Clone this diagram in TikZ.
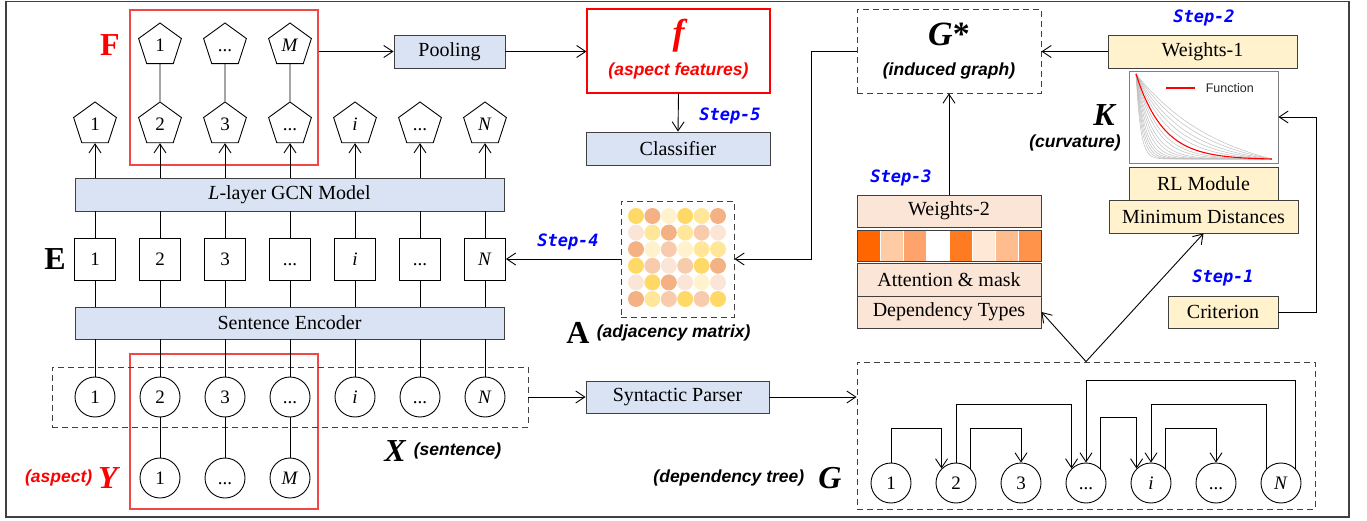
\documentclass[tikz,border=0pt]{standalone}
\usepackage{fontspec}
\setmainfont{Liberation Serif}
\newfontfamily\lsans{Liberation Sans}
\newfontfamily\stepf{DejaVu Sans Mono}
\usetikzlibrary{arrows.meta,shapes.geometric,calc}
\definecolor{bluef}{HTML}{DAE3F3}
\definecolor{yelf}{HTML}{FFF2CC}
\definecolor{peachf}{HTML}{FBE5D6}
\definecolor{redl}{HTML}{F04848}
\definecolor{edgec}{HTML}{404040}
\definecolor{stepc}{HTML}{0000FF}
\definecolor{mgold}{HTML}{FFD966}
\definecolor{msal}{HTML}{F4B183}
\definecolor{mly}{HTML}{FFF2CC}
\definecolor{mlg}{HTML}{FFE699}
\definecolor{mpc}{HTML}{F8CBAD}
\definecolor{mvl}{HTML}{FBE5D6}
\definecolor{sA}{HTML}{FF6600}
\definecolor{sB}{HTML}{FFCBA5}
\definecolor{sC}{HTML}{FFA36C}
\definecolor{sD}{HTML}{FFFFFF}
\definecolor{sE}{HTML}{FF7B22}
\definecolor{sF}{HTML}{FFE8D6}
\definecolor{sG}{HTML}{FFBD8F}
\definecolor{sH}{HTML}{FF934A}
\newcommand{\boxfs}{\fontsize{20}{22}\selectfont}
\newcommand{\numfs}{\fontsize{19}{20}\selectfont}
\newcommand{\labfs}{\lsans\bfseries\itshape\fontsize{17.5}{19}\selectfont}
\newcommand{\bigfs}{\fontsize{32}{34}\selectfont\bfseries}
\newcommand{\dotsx}{\vphantom{1}...}
\begin{document}
\begin{tikzpicture}[x=1pt,y=-1pt,line width=0.9pt,
  arr/.style={-{Straight Barb[length=9pt,width=12pt]}},
  boxn/.style={draw=edgec,inner sep=0,font=\boxfs,align=center},
  bluebox/.style={boxn,fill=bluef},
  yelbox/.style={boxn,fill=yelf},
  peachbox/.style={boxn,fill=peachf},
  pent/.style={regular polygon,regular polygon sides=5,draw,minimum size=45,inner sep=0,font=\numfs},
  circ/.style={circle,draw,minimum size=40,inner sep=0,font=\numfs},
  ebox/.style={draw,minimum width=41,minimum height=42,inner sep=0,font=\numfs},
  dashbox/.style={draw=edgec,dash pattern=on 6pt off 4pt,inner sep=0},
  lab/.style={font=\labfs},
  steplab/.style={text=stepc,font=\stepf\bfseries\itshape\fontsize{17}{18}\selectfont},
  bigl/.style={font=\bigfs}
]
\useasboundingbox (0,0) rectangle (1367,521);
\draw[edgec,line width=1.3pt] (6,1.2) rectangle (1349,517);

% ---------- red boxes
\node[draw=redl,line width=1.1pt,minimum width=188,minimum height=155,inner sep=0] (fred) at (224,87.5) {};
\node[draw=redl,line width=1.1pt,minimum width=188,minimum height=155,inner sep=0] (yred) at (224,431.5) {};

% ---------- pentagons
\node[pent] (q1) at (160,45.5) {1};
\node[pent] (q2) at (225,45.5) {\dotsx};
\node[pent] (q3) at (290,45.5) {\textit{M}};
\node[pent] (p1) at (95,124.5) {1};
\node[pent] (p2) at (160,124.5) {2};
\node[pent] (p3) at (225,124.5) {3};
\node[pent] (p4) at (290,124.5) {\dotsx};
\node[pent] (p5) at (355,124.5) {\textit{i}};
\node[pent] (p6) at (420,124.5) {\dotsx};
\node[pent] (p7) at (485,124.5) {\textit{N}};
\node[bigl,text=red] (flab) at (110,45) {F};

% ---------- GCN, E, encoder
\node[bluebox,minimum width=429,minimum height=33] (gcn) at (289.5,194.5) {\textit{L}-layer GCN Model};
\node[ebox] (e1) at (95,259) {1};
\node[ebox] (e2) at (160,259) {2};
\node[ebox] (e3) at (225,259) {3};
\node[ebox] (e4) at (290,259) {\dotsx};
\node[ebox] (e5) at (355,259) {\textit{i}};
\node[ebox] (e6) at (420,259) {\dotsx};
\node[ebox] (e7) at (485,259) {\textit{N}};
\node[bigl] (elab) at (55,259) {E};
\node[bluebox,minimum width=429,minimum height=32] (enc) at (289.5,323) {Sentence Encoder};

% ---------- X row
\node[dashbox,minimum width=476,minimum height=60] (xbox) at (290,397) {};
\node[circ] (x1) at (95,397) {1};
\node[circ] (x2) at (160,397) {2};
\node[circ] (x3) at (225,397) {3};
\node[circ] (x4) at (290,397) {\dotsx};
\node[circ] (x5) at (355,397) {\textit{i}};
\node[circ] (x6) at (420,397) {\dotsx};
\node[circ] (x7) at (485,397) {\textit{N}};
\node[circ] (y1) at (160,478) {1};
\node[circ] (y2) at (225,478) {\dotsx};
\node[circ] (y3) at (290,478) {\textit{M}};
\node[bigl,font=\bigfs\itshape] (xlab) at (395,451) {X};
\node[lab,anchor=west] (xtxt) at (410,451) {(sentence)};
\node[lab,anchor=east,text=red] (ytxt) at (96,478) {(aspect)};
\node[bigl,font=\bigfs\itshape,text=red] (ylab) at (108,478) {Y};

\foreach \k in {1,...,7}{
  \draw[arr] (p\k.south |- gcn.north) -- (p\k.south);
  \draw (e\k.north) -- (e\k.north |- gcn.south);
  \draw (e\k.south) -- (e\k.south |- enc.north);
  \draw (x\k.north |- enc.south) -- (x\k.north);
}
\draw (q1.south) -- (p2.north);
\draw (q2.south) -- (p3.north);
\draw (q3.south) -- (p4.north);
\draw (x2.south) -- (y1.north);
\draw (x3.south) -- (y2.north);
\draw (x4.south) -- (y3.north);

% ---------- top middle
\node[bluebox,minimum width=111,minimum height=33] (pool) at (449.5,51.5) {Pooling};
\node[draw=red,line width=1.1pt,fill=white,minimum width=183,minimum height=84,inner sep=0] (fbox) at (678.5,51) {};
\node[text=red,font=\fontsize{36}{38}\selectfont\bfseries\itshape] (ftxt) at (678.5,36) {f};
\node[lab,text=red] (aftxt) at (678.5,71) {(aspect features)};
\node[bluebox,minimum width=184,minimum height=33] (cls) at (678,148.5) {Classifier};
\node[steplab] (s5) at (730,116) {Step-5};
\draw[arr] (fred.east |- pool.west) -- (pool.west);
\draw[arr] (pool.east) -- (pool.east -| fbox.west);
\draw[arr] (fbox.south) -- (cls.north);

% ---------- adjacency matrix
\node[dashbox,minimum width=113,minimum height=116] (abox) at (677.5,259) {};
\foreach \row [count=\i] in {{mgold,msal,mly,mgold,mlg,msal},{mvl,mlg,msal,mlg,mpc,mvl},{msal,mly,mpc,mly,mlg,mlg},{mgold,mpc,mvl,mpc,mgold,msal},{mvl,mgold,msal,mvl,mly,mvl},{msal,mlg,mpc,mgold,mpc,mgold}}{
  \foreach \c [count=\j] in \row {
    \fill[\c] ({636+16.4*(\j-1)},{216+16.6*(\i-1)}) circle (8);
  }
}
\node[bigl] (alab) at (578,333) {A};
\node[lab,anchor=west] (atxt) at (593,333) {(adjacency matrix)};
\node[steplab] (s4) at (568,242) {Step-4};
\draw[arr] (abox.west) -- (e7.east);

% ---------- parser
\node[bluebox,minimum width=183,minimum height=32] (parser) at (677.5,397) {Syntactic Parser};

% ---------- G*
\node[dashbox,minimum width=184,minimum height=84] (gstar) at (949,51) {};
\node[font=\fontsize{34}{36}\selectfont\bfseries] (gtxt) at (949,34) {\textit{G}*};
\node[lab] (igtxt) at (949,71) {(induced graph)};
\draw[arr] (gstar.west) -- ++(-45,0) |- (abox.east);

% ---------- Weights-2 stack
\node[peachbox,minimum width=184,minimum height=32] (w2) at (949,211) {Weights-2};
\foreach \c [count=\j] in {sA,sB,sC,sD,sE,sF,sG,sH}{
  \fill[\c] ({857+23*(\j-1)},230) rectangle ++(23,31);
  \draw[white,line width=0.6pt] ({857+23*(\j-1)},230) -- ++(0,31);
}
\draw[edgec,line width=0.8pt] (857,230) rectangle (1041,261);
\node[peachbox,minimum width=184,minimum height=33] (att) at (949,279.5) {Attention \& mask};
\node[peachbox,minimum width=184,minimum height=32] (dep) at (949,312) {Dependency Types};
\node[steplab] (s3) at (901,178) {Step-3};
\draw[arr] (w2.north) -- (gstar.south);

% ---------- right column
\node[yelbox,minimum width=189,minimum height=33] (w1) at (1202.5,51.5) {Weights-1};
\node[steplab] (s2) at (1204,18) {Step-2};
\draw[arr] (w1.west) -- (w1.west -| gstar.east);
\node[draw=gray,fill=white,line width=0.8pt,minimum width=149,minimum height=92,inner sep=0] (chart) at (1203.5,117) {};
\foreach \k in {1.6,2.1,2.7,3.3,4,6,7,8.5,10,12,14.5,17,20,24,30}{
  \draw[gray!50,line width=0.5pt] plot[domain=0:1,samples=60,smooth] ({1136+136*\x},{74+85*(1-exp(-\k*\x))/(1-exp(-\k))});
}
\draw[red,line width=1.1pt] plot[domain=0:1,samples=60,smooth] ({1136+136*\x},{74+85*(1-exp(-5*\x))/(1-exp(-5))});
\draw[red,line width=1.1pt] (1166,88) -- (1195,88);
\node[anchor=west,font=\lsans\fontsize{12.5}{14}\selectfont,text=black!85] (fn) at (1202,88) {Function};
\node[bigl,font=\bigfs\itshape] (klab) at (1104,115) {K};
\node[lab] (ktxt) at (1075,143) {(curvature)};
\node[yelbox,minimum width=149,minimum height=33] (rl) at (1203.5,183.5) {RL Module};
\node[yelbox,minimum width=189,minimum height=33] (mind) at (1203.5,216.5) {Minimum Distances};
\node[yelbox,minimum width=110,minimum height=32] (crit) at (1223,312) {Criterion};
\node[steplab] (s1) at (1223,278) {Step-1};
\draw[arr] (crit.east) -- ++(38,0) |- (chart.east);

% ---------- dependency tree
\node[dashbox,minimum width=458,minimum height=147] (tree) at (1086,435.5) {};
\node[circ] (t1) at (891,483) {1};
\node[circ] (t2) at (956,483) {2};
\node[circ] (t3) at (1021,483) {3};
\node[circ] (t4) at (1086,483) {\dotsx};
\node[circ] (t5) at (1151,483) {\textit{i}};
\node[circ] (t6) at (1216,483) {\dotsx};
\node[circ] (t7) at (1281,483) {\textit{N}};
\node[lab,anchor=east] (dttxt) at (808,478) {(dependency tree)};
\node[bigl,font=\bigfs\itshape] (glab) at (830,478) {G};
\draw[arr] (t1.north) -- (t1.north |- 0,428) -- (t2.135 |- 0,428) -- (t2.135);
\draw[arr] (t2.45) -- (t2.45 |- 0,428) -- (t3.north |- 0,428) -- (t3.north);
\draw[arr] (t2.north) -- (t2.north |- 0,404) -- (t4.135 |- 0,404) -- (t4.135);
\draw[arr] (t4.45) -- (t4.45 |- 0,417) -- (t5.135 |- 0,417) -- (t5.135);
\draw[arr] (t7.45) -- (t7.45 |- 0,380) -- (t4.north |- 0,380) -- (t4.north);
\draw[arr] (t7.135) -- (t7.135 |- 0,404) -- (t5.north |- 0,404) -- (t5.north);
\draw[arr] (t5.45) -- (t5.45 |- 0,428) -- (t6.north |- 0,428) -- (t6.north);

\draw[arr] (xbox.east) -- (parser.west);
\draw[arr] (parser.east) -- (parser.east -| tree.west);
\coordinate (apex) at (t4 |- tree.north);
\draw[arr] (apex) -- (dep.east);
\draw[arr] (apex) -- (mind.south);
\end{tikzpicture}
\end{document}
